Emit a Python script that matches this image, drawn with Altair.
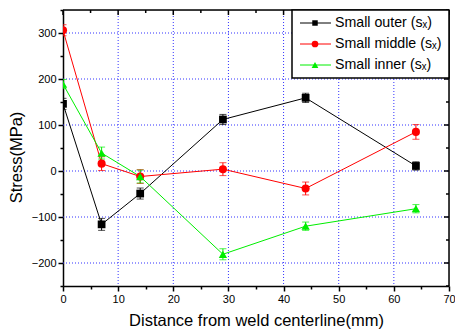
import altair as alt
import pandas as pd

# ---- data ----
x_pos = [0, 7, 14, 29, 44, 64]
outer = [146, -116, -49, 112, 159, 11]
outer_err = [12, 13, 12, 11, 10, 9]
middle = [306, 16, -12, 4, -38, 85]
middle_err = [12, 15, 15, 14, 14, 16]
inner = [189, 39, -12, -181, -120, -82]
inner_err = [10, 13, 14, 12, 9, 9]

series_names = ["Small outer (s\u2093)", "Small middle (s\u2093)", "Small inner (s\u2093)"]
series_colors = ["#000000", "#ff0000", "#00ee00"]
series_shapes = ["square", "circle", "triangle-up"]
series_sizes = [60, 70, 70]
legend_sizes = [30, 45, 45]

x_major = [0, 10, 20, 30, 40, 50, 60, 70]
x_minor = [5, 15, 25, 35, 45, 55, 65]
y_major = [-200, -100, 0, 100, 200, 300]
y_minor = [-250, -150, -50, 50, 150, 250, 350]
x_grid = [10, 20, 30, 40, 50, 60]
y_grid = [-200, -100, 0, 100, 200, 300]

W, H = 386, 276
FONT = "Liberation Sans"

rows = []
for name, vals, errs in zip(series_names, [outer, middle, inner], [outer_err, middle_err, inner_err]):
    for xv, v, e in zip(x_pos, vals, errs):
        rows.append({"series": name, "x": xv, "y": v, "lo": v - e, "hi": v + e})
df = pd.DataFrame(rows)

xscale = alt.Scale(domain=[0, 70], nice=False, zero=False)
yscale = alt.Scale(domain=[-250, 350], nice=False, zero=False)

xax = alt.Axis(values=x_major + x_minor, labelExpr="datum.value % 10 == 0 ? datum.label : ''",
               tickSize={"condition": {"test": "datum.value % 10 == 0", "value": 5}, "value": 3},
               grid=False, title="Distance from weld centerline(mm)", titleFontSize=16.5,
               titleFontWeight="normal", titleFont=FONT, labelFont=FONT, labelFontSize=11,
               labelColor="#000", titleColor="#000", domainColor="#000", tickColor="#000",
               domainWidth=1.5, tickWidth=1.5, titlePadding=8, labelPadding=2,
               labelOverlap=False, labelFlush=False)
yax = alt.Axis(values=y_major + y_minor, labelExpr="abs(datum.value) % 100 == 0 ? datum.label : ''",
               tickSize={"condition": {"test": "abs(datum.value) % 100 == 0", "value": 5}, "value": 3},
               grid=False, title="Stress(MPa)", titleFontSize=16.5,
               titleFontWeight="normal", titleFont=FONT, labelFont=FONT, labelFontSize=11,
               labelColor="#000", titleColor="#000", domainColor="#000", tickColor="#000",
               domainWidth=1.5, tickWidth=1.5, labelPadding=2,
               titleX=-47, titleY=147, titleAlign="center", titleBaseline="middle", titleAngle=270,
               labelOverlap=False, labelFlush=False)

# grid lines
gx = alt.Chart(pd.DataFrame({"g": x_grid})).mark_rule(color="#3333ff", strokeDash=[1, 2], strokeWidth=1).encode(
    x=alt.X("g:Q", scale=xscale, axis=xax), y=alt.value(0), y2=alt.value(H))
gy = alt.Chart(pd.DataFrame({"g": y_grid})).mark_rule(color="#3333ff", strokeDash=[1, 2], strokeWidth=1).encode(
    y=alt.Y("g:Q", scale=yscale, axis=yax), x=alt.value(0), x2=alt.value(W))

# top / right frame and inward ticks
frame_top = alt.Chart(pd.DataFrame({"a": [0]})).mark_rule(color="#000", strokeWidth=1.5).encode(
    x=alt.value(0), x2=alt.value(W), y=alt.value(0))
frame_right = alt.Chart(pd.DataFrame({"a": [0]})).mark_rule(color="#000", strokeWidth=1.5).encode(
    x=alt.value(W), y=alt.value(0), y2=alt.value(H))
top_major = alt.Chart(pd.DataFrame({"t": x_major})).mark_rule(color="#000", strokeWidth=1.5).encode(
    x=alt.X("t:Q", scale=xscale, axis=xax), y=alt.value(0), y2=alt.value(5))
top_minor = alt.Chart(pd.DataFrame({"t": x_minor})).mark_rule(color="#000", strokeWidth=1.5).encode(
    x=alt.X("t:Q", scale=xscale, axis=xax), y=alt.value(0), y2=alt.value(3))
right_major = alt.Chart(pd.DataFrame({"t": y_major})).mark_rule(color="#000", strokeWidth=1.5).encode(
    y=alt.Y("t:Q", scale=yscale, axis=yax), x=alt.value(W - 5), x2=alt.value(W))
right_minor = alt.Chart(pd.DataFrame({"t": y_minor})).mark_rule(color="#000", strokeWidth=1.5).encode(
    y=alt.Y("t:Q", scale=yscale, axis=yax), x=alt.value(W - 3), x2=alt.value(W))

cscale = alt.Scale(domain=series_names, range=series_colors)
sscale = alt.Scale(domain=series_names, range=series_shapes)
szscale = alt.Scale(domain=series_names, range=series_sizes)

base = alt.Chart(df).encode(
    x=alt.X("x:Q", scale=xscale, axis=xax),
    color=alt.Color("series:N", scale=cscale, legend=None),
)
lines = base.mark_line(strokeWidth=1, clip=True).encode(y=alt.Y("y:Q", scale=yscale, axis=yax), detail="series:N")
err = base.mark_rule(strokeWidth=1, clip=True).encode(y=alt.Y("lo:Q", scale=yscale, axis=yax), y2="hi:Q")
cap_lo = base.mark_tick(orient="horizontal", size=7, thickness=1, clip=True).encode(y=alt.Y("lo:Q", scale=yscale, axis=yax))
cap_hi = base.mark_tick(orient="horizontal", size=7, thickness=1, clip=True).encode(y=alt.Y("hi:Q", scale=yscale, axis=yax))
pts = base.mark_point(filled=True, opacity=1, clip=True).encode(
    y=alt.Y("y:Q", scale=yscale, axis=yax),
    shape=alt.Shape("series:N", scale=sscale, legend=None),
    size=alt.Size("series:N", scale=szscale, legend=None),
)

# manual legend (one row per series)
box = alt.Chart(pd.DataFrame({"a": [0]})).mark_rect(fill="white", stroke="#000", strokeWidth=1.5).encode(
    x=alt.value(229), x2=alt.value(W), y=alt.value(0), y2=alt.value(68))
leg_layers = [box]
leg_df = pd.DataFrame({"series": series_names})
for i, name in enumerate(series_names):
    ly = 13 + 21 * i
    lb = alt.Chart(leg_df).transform_filter(alt.datum.series == name).encode(
        color=alt.Color("series:N", scale=cscale, legend=None))
    leg_layers.append(lb.mark_rule(strokeWidth=1).encode(x=alt.value(237), x2=alt.value(268), y=alt.value(ly)))
    leg_layers.append(lb.mark_point(filled=True, opacity=1, shape=series_shapes[i], size=legend_sizes[i]).encode(
        x=alt.value(252), y=alt.value(ly)))
    leg_layers.append(alt.Chart(leg_df).transform_filter(alt.datum.series == name).mark_text(
        align="left", baseline="middle", fontSize=14.2, font=FONT, color="#000").encode(
        x=alt.value(272), y=alt.value(ly), text="series:N"))

chart = alt.layer(
    gx, gy, lines, err, cap_lo, cap_hi, pts,
    frame_top, frame_right, top_major, top_minor, right_major, right_minor,
    *leg_layers,
).properties(
    width=W, height=H,
    autosize=alt.AutoSizeParams(type="none"),
    padding={"left": 63, "top": 10, "right": 6, "bottom": 47},
).configure_view(stroke=None).configure(background="white")

chart.save("out.html", embed_options={"renderer": "svg", "actions": False})
